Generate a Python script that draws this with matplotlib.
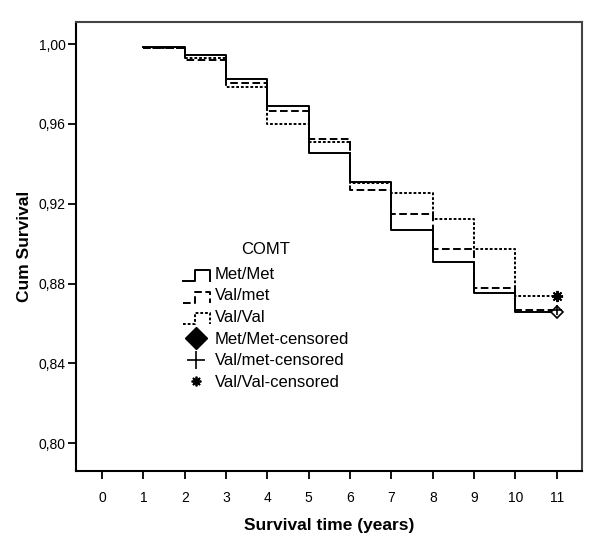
import matplotlib
matplotlib.use("Agg")
import matplotlib.pyplot as plt
from matplotlib.lines import Line2D
from matplotlib.legend_handler import HandlerBase

plt.rcParams['font.family'] = ['Liberation Sans', 'DejaVu Sans']
plt.rcParams['lines.scale_dashes'] = False

# ---- data ----
step_times = [1, 2, 3, 4, 5, 6, 7, 8, 9, 10, 11]
met_met = [0.9985, 0.9945, 0.9823, 0.9687, 0.9456, 0.9307, 0.9068, 0.8908, 0.8752, 0.8658]
val_met = [0.9980, 0.9918, 0.9803, 0.9665, 0.9523, 0.9268, 0.9147, 0.8975, 0.8780, 0.8670]
val_val = [0.9978, 0.9930, 0.9783, 0.9600, 0.9507, 0.9305, 0.9252, 0.9122, 0.8975, 0.8740]
censor_time = 11
groups = ['Met/Met', 'Val/met', 'Val/Val']
x_ticks = list(range(0, 12))
y_ticks = [0.80, 0.84, 0.88, 0.92, 0.96, 1.00]
y_tick_labels = ['0,80', '0,84', '0,88', '0,92', '0,96', '1,00']

dash_styles = {'Met/Met': '-', 'Val/met': (0, (5.5, 2.5)), 'Val/Val': (0, (2.0, 1.4))}
series = {'Met/Met': met_met, 'Val/met': val_met, 'Val/Val': val_val}

fig = plt.figure(figsize=(6.0, 5.42), dpi=100)
top_px, bot_px = 22, 471
ax = fig.add_axes([76/600, 1-bot_px/542, (582-76)/600, (bot_px-top_px)/542])

lw = 1.4
for g in groups:
    vals = series[g]
    ax.step(step_times, vals + [vals[-1]], where='post', color='black',
            linestyle=dash_styles[g], linewidth=lw)

# censored markers
ax.plot([censor_time], [met_met[-1]], marker='D', markersize=6.5, markerfacecolor='white',
        markeredgecolor='black', markeredgewidth=1.2, linestyle='none', zorder=5)
ax.plot([censor_time], [val_met[-1]], marker='+', markersize=7, color='black',
        markeredgewidth=1.2, linestyle='none', zorder=5)
ax.plot([censor_time], [val_val[-1]], marker=(8, 2, 0), markersize=8, color='black',
        markeredgewidth=1.4, linestyle='none', zorder=5)

# y scale: 1.00 at 44 px, 0.80 at 443.3 px from top
ppu = (443.3 - 44) / 0.20
ax.set_xlim(-0.63, 11.61)
ax.set_ylim(0.80 - (bot_px - 443.3) / ppu, 1.00 + (44 - top_px) / ppu)
ax.set_xticks(x_ticks)
ax.set_xticklabels([str(t) for t in x_ticks])
ax.set_yticks(y_ticks)
ax.set_yticklabels(y_tick_labels)
ax.tick_params(axis='both', direction='out', length=5.5, width=1.3, labelsize=10, colors='black')
ax.tick_params(axis='x', pad=9)
ax.tick_params(axis='y', pad=2)

for s in ['left', 'bottom']:
    ax.spines[s].set_linewidth(1.5)
    ax.spines[s].set_color('black')
for s in ['top', 'right']:
    ax.spines[s].set_linewidth(1.5)
    ax.spines[s].set_color('#444444')

ax.set_xlabel('Survival time (years)', fontsize=12.5, fontweight='bold', labelpad=9)
ax.set_ylabel('Cum Survival', fontsize=12.5, fontweight='bold', labelpad=5)


# ---- legend with step-shaped symbols ----
class StepHandler(HandlerBase):
    def __init__(self, ls):
        super().__init__()
        self.ls = ls

    def create_artists(self, legend, orig_handle, xdescent, ydescent, width, height,
                       fontsize, trans):
        x0 = -xdescent
        y0 = -ydescent - 0.2 * height
        h = height * 0.95
        xm = x0 + 0.45 * width
        xs = [x0, xm, xm, x0 + width, x0 + width]
        ys = [y0, y0, y0 + h, y0 + h, y0]
        ln = Line2D(xs, ys, color='black', linestyle=self.ls, linewidth=lw, transform=trans)
        return [ln]


h_lines = [Line2D([], [], color='black') for _ in groups]
h_mm = Line2D([], [], marker='D', markersize=11, color='black', linestyle='none')
h_vm = Line2D([], [], marker='+', markersize=13, color='black', markeredgewidth=1.2, linestyle='none')
h_vv = Line2D([], [], marker=(8, 2, 0), markersize=7, color='black', markeredgewidth=1.3, linestyle='none')

handles = h_lines + [h_mm, h_vm, h_vv]
labels = groups + [g + '-censored' for g in groups]
handler_map = {h_lines[i]: StepHandler(dash_styles[g]) for i, g in enumerate(groups)}

leg = ax.legend(handles, labels, handler_map=handler_map, title='COMT',
                loc='upper left', bbox_to_anchor=(183/600, 1-242/542),
                bbox_transform=fig.transFigure, frameon=False, fontsize=12,
                title_fontsize=12, handlelength=1.6, handletextpad=0.3,
                labelspacing=0.4, borderpad=0, borderaxespad=0)
leg._legend_box.sep = 7

fig.savefig('out.png', dpi=100)
